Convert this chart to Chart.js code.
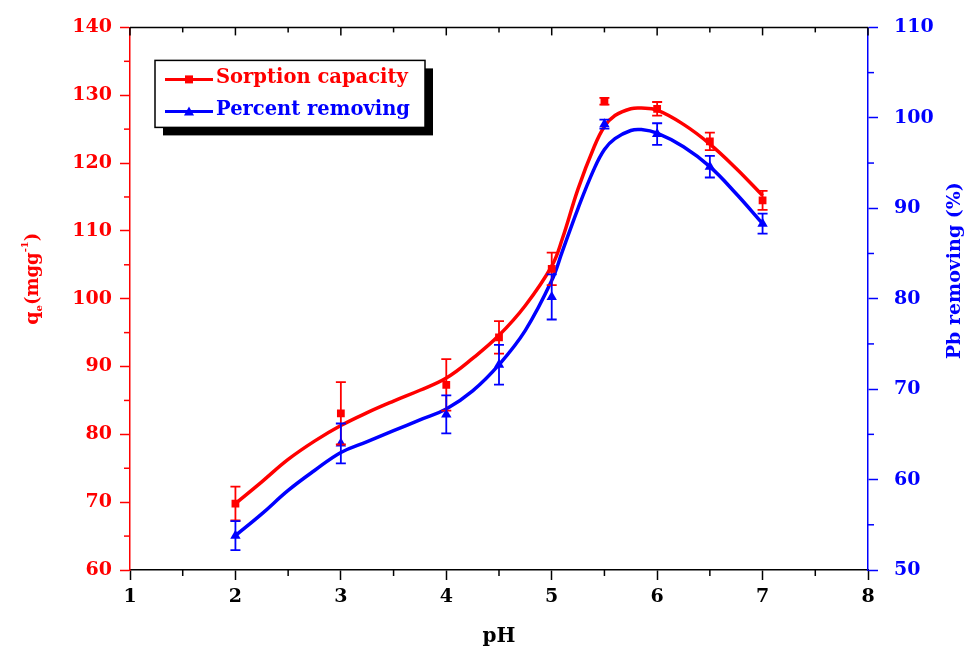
<!DOCTYPE html>
<html>
<head>
<meta charset="utf-8">
<script src="https://cdn.jsdelivr.net/npm/chart.js@4.4.1/dist/chart.umd.min.js"></script>
<style>
  html, body { margin: 0; padding: 0; background: #fff; }
</style>
</head>
<body>
<canvas id="chart" width="979" height="665"></canvas>
<script>
// measured points
const phPoints = [2, 3, 4, 4.5, 5, 5.5, 6, 6.5, 7];
const capacity = [69.8, 83.1, 87.3, 94.3, 104.4, 129.1, 128.0, 123.2, 114.5];
const capacityErr = [2.5, 4.6, 3.8, 2.4, 2.4, 0.5, 1.0, 1.3, 1.4];
const removal = [53.8, 64.0, 67.2, 72.7, 80.2, 99.3, 98.2, 94.6, 88.3];
const removalErr = [1.6, 2.2, 2.1, 2.2, 2.5, 0.5, 1.2, 1.2, 1.1];

// fitted curves
const fitPh = [2, 2.25, 2.5, 2.75, 3, 3.25, 3.5, 3.75, 4, 4.25, 4.5, 4.75, 5, 5.1, 5.25, 5.4, 5.5, 5.6, 5.75, 5.85, 6, 6.25, 6.5, 6.75, 7];
const capacityFit = [69.8, 73.0, 76.3, 79.0, 81.3, 83.2, 84.9, 86.5, 88.3, 91.2, 94.6, 99.0, 104.8, 108.8, 116.2, 122.3, 125.4, 127.0, 128.0, 128.1, 127.8, 125.7, 122.8, 119.2, 115.2];
const removalFit = [53.8, 56.2, 58.8, 61.0, 63.0, 64.2, 65.4, 66.6, 67.8, 69.8, 72.7, 76.5, 82.0, 85.2, 90.0, 94.3, 96.5, 97.7, 98.6, 98.7, 98.3, 96.8, 94.6, 91.6, 88.3];

const seriesLabels = ['Sorption capacity', 'Percent removing'];
const xRange = [1, 8];
const leftRange = [60, 140];
const rightRange = [50, 110];

const RED = '#ff0000';
const BLUE = '#0000ff';
const FONT = '"DejaVu Serif", "Liberation Serif", serif';

function pairs(xs, ys) {
    return xs.map((x, i) => ({ x: x, y: ys[i] }));
}

function drawErrorBars(chart, xs, ys, errs, axisId, color) {
    const ctx = chart.ctx;
    const sx = chart.scales.x;
    const sy = chart.scales[axisId];
    ctx.save();
    ctx.strokeStyle = color;
    ctx.lineWidth = 1.8;
    xs.forEach((v, i) => {
        const px = sx.getPixelForValue(v);
        const top = sy.getPixelForValue(ys[i] + errs[i]);
        const bot = sy.getPixelForValue(ys[i] - errs[i]);
        ctx.beginPath();
        ctx.moveTo(px, top); ctx.lineTo(px, bot);
        ctx.moveTo(px - 5, top); ctx.lineTo(px + 5, top);
        ctx.moveTo(px - 5, bot); ctx.lineTo(px + 5, bot);
        ctx.stroke();
    });
    ctx.restore();
}

function line(ctx, x1, y1, x2, y2) {
    ctx.beginPath(); ctx.moveTo(x1, y1); ctx.lineTo(x2, y2); ctx.stroke();
}

const extras = {
    id: 'extras',
    afterDatasetsDraw(chart) {
        drawErrorBars(chart, phPoints, capacity, capacityErr, 'y', RED);
        drawErrorBars(chart, phPoints, removal, removalErr, 'y2', BLUE);
    },
    afterDraw(chart) {
        const ctx = chart.ctx;
        const a = chart.chartArea;
        const sx = chart.scales.x, sy = chart.scales.y, sy2 = chart.scales.y2;
        ctx.save();
        ctx.lineWidth = 1.5;

        // top frame line with inward ticks
        ctx.strokeStyle = '#000';
        line(ctx, a.left, a.top, a.right, a.top);
        for (let v = xRange[0]; v <= xRange[1]; v += 0.5) {
            const px = sx.getPixelForValue(v);
            const len = Number.isInteger(v) ? 8 : 5;
            line(ctx, px, a.top, px, a.top + len);
            if (!Number.isInteger(v)) line(ctx, px, a.bottom, px, a.bottom + 6);
        }
        // minor ticks on y axes
        ctx.strokeStyle = RED;
        for (let v = leftRange[0] + 5; v < leftRange[1]; v += 10) {
            const py = sy.getPixelForValue(v);
            line(ctx, a.left - 6, py, a.left, py);
        }
        ctx.strokeStyle = BLUE;
        for (let v = rightRange[0] + 5; v < rightRange[1]; v += 10) {
            const py = sy2.getPixelForValue(v);
            line(ctx, a.right, py, a.right + 6, py);
        }

        // left axis title q_e (mg g^-1)
        const midY = (a.top + a.bottom) / 2;
        ctx.save();
        ctx.translate(33, midY - 20);
        ctx.rotate(-Math.PI / 2);
        ctx.fillStyle = RED;
        ctx.textBaseline = 'middle';
        const parts = [
            { t: 'q', f: 'bold 19px ' + FONT, dy: 0 },
            { t: 'e', f: 'bold 10px ' + FONT, dy: 6 },
            { t: '(mgg', f: 'bold 18px ' + FONT, dy: 0 },
            { t: '-1', f: 'bold 10px ' + FONT, dy: -8 },
            { t: ')', f: 'bold 18px ' + FONT, dy: 0 }
        ];
        let total = 0;
        parts.forEach(p => { ctx.font = p.f; p.w = ctx.measureText(p.t).width; total += p.w; });
        let cx = -total / 2;
        parts.forEach(p => { ctx.font = p.f; ctx.fillText(p.t, cx, p.dy); cx += p.w; });
        ctx.restore();

        // right axis title
        ctx.save();
        ctx.translate(955, midY - 28);
        ctx.rotate(-Math.PI / 2);
        ctx.fillStyle = BLUE;
        ctx.font = 'bold 19px ' + FONT;
        ctx.textAlign = 'center';
        ctx.textBaseline = 'middle';
        ctx.fillText('Pb removing (%)', 0, 0);
        ctx.restore();

        // x title
        ctx.fillStyle = '#000';
        ctx.font = 'bold 20px ' + FONT;
        ctx.textAlign = 'center';
        ctx.textBaseline = 'middle';
        ctx.fillText('pH', (a.left + a.right) / 2, 637);

        // legend with drop shadow
        const lx = a.left + 25, ly = a.top + 33, lw = 270, lh = 67;
        ctx.fillStyle = '#000';
        ctx.fillRect(lx + 8, ly + 8, lw, lh);
        ctx.fillStyle = '#fff';
        ctx.fillRect(lx, ly, lw, lh);
        ctx.strokeStyle = '#000';
        ctx.lineWidth = 1.5;
        ctx.strokeRect(lx, ly, lw, lh);
        const rows = [
            { label: seriesLabels[0], color: RED, marker: 'rect' },
            { label: seriesLabels[1], color: BLUE, marker: 'tri' }
        ];
        rows.forEach((r, i) => {
            const yy = ly + 19 + i * 32;
            ctx.strokeStyle = r.color;
            ctx.lineWidth = 3;
            line(ctx, lx + 10, yy, lx + 58, yy);
            ctx.fillStyle = r.color;
            if (r.marker === 'rect') {
                ctx.fillRect(lx + 30, yy - 4, 8, 8);
            } else {
                ctx.beginPath();
                ctx.moveTo(lx + 34, yy - 5); ctx.lineTo(lx + 39, yy + 4); ctx.lineTo(lx + 29, yy + 4);
                ctx.closePath(); ctx.fill();
            }
            ctx.font = 'bold 19.5px ' + FONT;
            ctx.textAlign = 'left';
            ctx.textBaseline = 'middle';
            ctx.fillText(r.label, lx + 61, yy - 1);
        });
        ctx.restore();
    }
};

const tickFont = { family: FONT, size: 19, weight: 'bold' };

new Chart(document.getElementById('chart'), {
    type: 'scatter',
    data: {
        datasets: [
            {
                label: seriesLabels[0],
                data: pairs(phPoints, capacity),
                yAxisID: 'y',
                pointStyle: 'rect',
                pointRadius: 5.5,
                backgroundColor: RED,
                borderColor: RED,
                borderWidth: 0
            },
            {
                label: seriesLabels[1],
                data: pairs(phPoints, removal),
                yAxisID: 'y2',
                pointStyle: 'triangle',
                pointRadius: 6,
                backgroundColor: BLUE,
                borderColor: BLUE,
                borderWidth: 0
            },
            {
                label: 'capacity fit',
                data: pairs(fitPh, capacityFit),
                yAxisID: 'y',
                showLine: true,
                pointRadius: 0,
                borderColor: RED,
                borderWidth: 3.5,
                tension: 0.4
            },
            {
                label: 'removal fit',
                data: pairs(fitPh, removalFit),
                yAxisID: 'y2',
                showLine: true,
                pointRadius: 0,
                borderColor: BLUE,
                borderWidth: 3.5,
                tension: 0.4
            }
        ]
    },
    options: {
        responsive: false,
        animation: false,
        devicePixelRatio: 1,
        events: [],
        layout: { padding: { top: 22, left: 0, right: 0, bottom: 0 } },
        plugins: {
            legend: { display: false },
            tooltip: { enabled: false }
        },
        scales: {
            x: {
                type: 'linear',
                position: 'bottom',
                min: xRange[0],
                max: xRange[1],
                ticks: { stepSize: 1, color: '#000', font: tickFont, padding: 6 },
                grid: { drawOnChartArea: false, tickLength: 10, tickColor: '#000', tickWidth: 1.5 },
                border: { color: '#000', width: 1.5 },
                afterFit: s => { s.height = 95; }
            },
            y: {
                type: 'linear',
                position: 'left',
                min: leftRange[0],
                max: leftRange[1],
                ticks: { stepSize: 10, color: RED, font: tickFont, padding: 8 },
                grid: { drawOnChartArea: false, tickLength: 10, tickColor: RED, tickWidth: 1.5 },
                border: { color: RED, width: 1.5 },
                afterFit: s => { s.width = 130; }
            },
            y2: {
                type: 'linear',
                position: 'right',
                min: rightRange[0],
                max: rightRange[1],
                ticks: { stepSize: 10, color: BLUE, font: tickFont, padding: 16 },
                grid: { drawOnChartArea: false, tickLength: 10, tickColor: BLUE, tickWidth: 1.5 },
                border: { color: BLUE, width: 1.5 },
                afterFit: s => { s.width = 111; }
            }
        }
    },
    plugins: [extras]
});
</script>
</body>
</html>
